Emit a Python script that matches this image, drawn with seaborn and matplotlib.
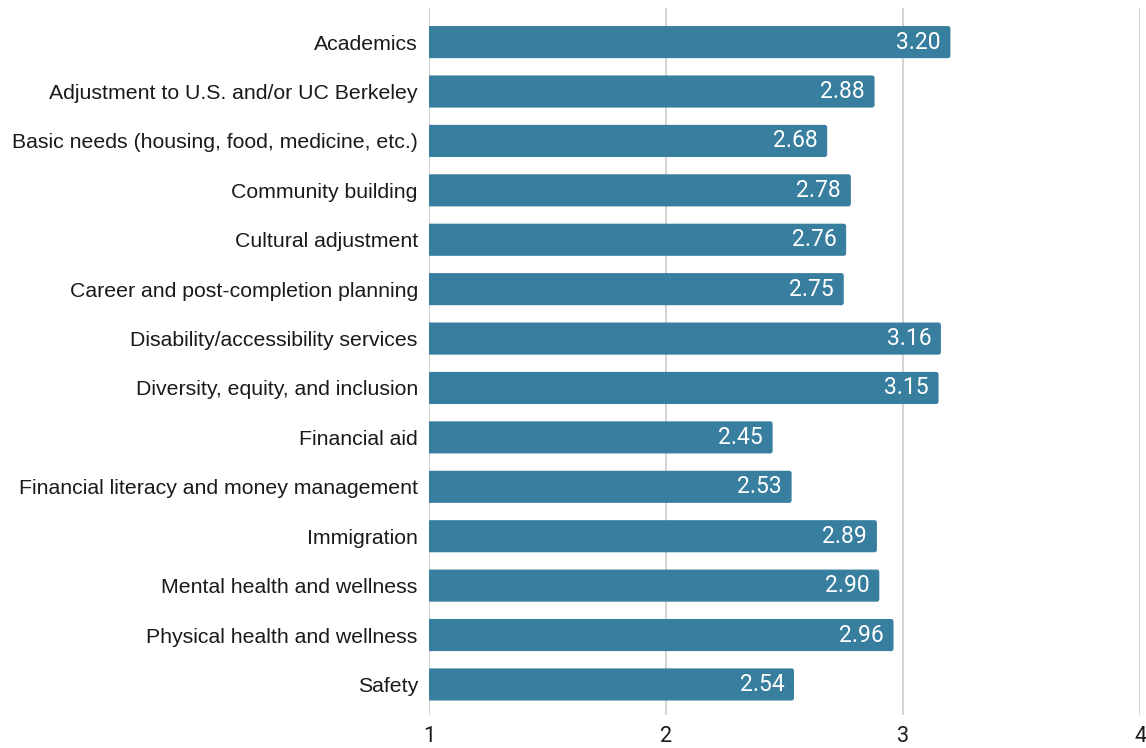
import matplotlib
matplotlib.use("Agg")
import matplotlib.pyplot as plt
from matplotlib.patches import FancyBboxPatch
import seaborn as sns
import pandas as pd

categories = [
    "Academics",
    "Adjustment to U.S. and/or UC Berkeley",
    "Basic needs (housing, food, medicine, etc.)",
    "Community building",
    "Cultural adjustment",
    "Career and post-completion planning",
    "Disability/accessibility services",
    "Diversity, equity, and inclusion",
    "Financial aid",
    "Financial literacy and money management",
    "Immigration",
    "Mental health and wellness",
    "Physical health and wellness",
    "Safety",
]
scores = [3.20, 2.88, 2.68, 2.78, 2.76, 2.75, 3.16, 3.15, 2.45, 2.53, 2.89, 2.90, 2.96, 2.54]
x_ticks = [1, 2, 3, 4]

df = pd.DataFrame({"category": categories, "score": scores})

sns.set_theme(style="white")
plt.rcParams["font.family"] = ["Liberation Sans", "DejaVu Sans"]

bar_color = "#377e9f"

fig = plt.figure(figsize=(11.46, 7.48), dpi=100)
ax = fig.add_axes([0.3743, 0.044, 0.6205, 0.9453])

sns.barplot(data=df, x="score", y="category", orient="h", color=bar_color,
            width=0.65, saturation=1, ax=ax, zorder=2)

# replace plain rectangles with slightly rounded ones
px_x = 237.0   # pixels per x unit
px_y = 49.5    # pixels per category step
for p in list(ax.patches):
    x0, y0 = p.get_x(), p.get_y()
    w, h = p.get_width(), p.get_height()
    rb = FancyBboxPatch((x0, y0), w, h,
                        boxstyle=f"round,pad=0,rounding_size={2.5 / px_x}",
                        mutation_aspect=px_x / px_y,
                        facecolor=bar_color, edgecolor="none", zorder=2)
    ax.add_patch(rb)
    p.remove()

for i, v in enumerate(scores):
    ax.annotate(f"{v:.2f}", xy=(v, i), xytext=(-7, 0), textcoords="offset points",
                ha="right", va="center", color="white", fontsize=16.5,
                family=["Roboto", "DejaVu Sans"], zorder=3)

ax.set_xlim(1, 4)
ax.set_ylim(13.62, -0.69)
ax.set_xticks(x_ticks)
ax.set_xticklabels([str(t) for t in x_ticks], family=["Roboto", "DejaVu Sans"])
ax.grid(axis="x", color="#cccccc", linewidth=1.2, zorder=0)
ax.grid(axis="y", visible=False)
for s in ax.spines.values():
    s.set_visible(False)

ax.tick_params(axis="y", length=0, pad=8, labelsize=15.3, labelcolor="#1a1a1a")
ax.tick_params(axis="x", length=0, pad=8, labelsize=15.5, labelcolor="#1a1a1a")
ax.set_xlabel("")
ax.set_ylabel("")

fig.savefig("out.png", dpi=100)
